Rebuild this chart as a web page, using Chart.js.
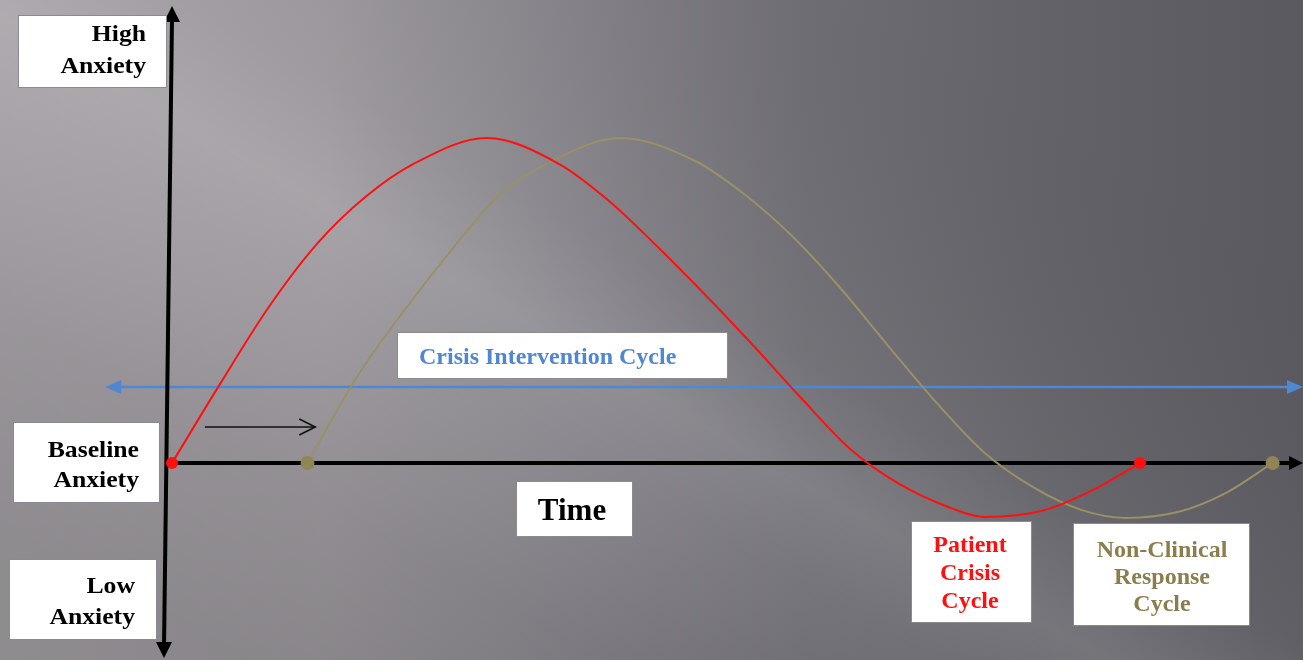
<!DOCTYPE html>
<html>
<head>
<meta charset="utf-8">
<title>Crisis Intervention Cycle</title>
<script src="https://cdn.jsdelivr.net/npm/chart.js@4/dist/chart.umd.min.js"></script>
<style>
  html, body { margin: 0; padding: 0; background: #77757a; }
  body { width: 1303px; height: 660px; overflow: hidden; }
  #wrap { position: absolute; left: 0; top: 0; width: 1303px; height: 660px; }
</style>
</head>
<body>
<div id="wrap"><canvas id="chart" width="1303" height="660"></canvas></div>
<script>
// Time runs in cycle units (one full patient cycle = 10); anxiety is relative to baseline (0).
const patientTime  = [0, 0.5, 1.0, 1.5, 2.0, 2.5, 3.25, 4.0, 4.5, 5.0, 5.5, 6.0, 6.5, 7.0, 7.5, 8.0, 8.4, 9.0, 9.5, 10.0];
const patientLevel = [0, 2.45, 4.8, 6.75, 8.19, 9.21, 10.0, 9.2, 8.1, 6.7, 5.2, 3.63, 2.0, 0.45, -0.62, -1.33, -1.66, -1.46, -0.85, 0];

const responseTime  = [1.4, 1.9, 2.4, 2.9, 3.4, 3.9, 4.63, 5.4, 5.9, 6.4, 6.9, 7.4, 7.9, 8.4, 8.9, 9.4, 9.85, 10.4, 10.9, 11.37];
const responseLevel = [0, 2.6, 4.7, 6.6, 8.3, 9.25, 10.0, 9.3, 8.3, 7.0, 5.4, 3.6, 1.85, 0.3, -0.75, -1.45, -1.69, -1.5, -0.9, 0];

// Reference levels on the anxiety scale
const interventionLevel = 2.34;   // crisis intervention band
const interventionFrom = -0.69;
const shiftArrowLevel = 1.11;     // delay arrow between the two cycle starts
const shiftArrowFrom = 0.34;
const shiftArrowTo = 1.48;

const xRange = [-1.777, 11.684];
const yRange = [-6.06, 14.246];

const RED = '#ff1010';
const OLIVE = '#9a9066';
const OLIVE_DOT = '#8f8656';
const OLIVE_TEXT = '#8a7e4e';
const BLUE = '#4f87d1';

function pts(ts, vs) { return ts.map((t, i) => ({ x: t, y: vs[i] })); }
function endDots(n, r) { return ctx => (ctx.dataIndex === 0 || ctx.dataIndex === n - 1) ? r : 0; }

const SERIF = '"Liberation Serif", "DejaVu Serif", serif';

function box(ctx, x0, y0, x1, y1) {
  ctx.save();
  ctx.fillStyle = '#ffffff';
  ctx.fillRect(x0, y0, x1 - x0, y1 - y0);
  ctx.strokeStyle = 'rgba(110,110,115,0.8)';
  ctx.lineWidth = 1;
  ctx.strokeRect(x0 + 0.5, y0 + 0.5, x1 - x0 - 1, y1 - y0 - 1);
  ctx.restore();
}
// Text lines drawn on their alphabetic baselines; sx widens the glyphs slightly.
function lines(ctx, texts, x, baselines, align, color, size, sx) {
  sx = sx || 1;
  ctx.save();
  ctx.fillStyle = color;
  ctx.font = 'bold ' + size + 'px ' + SERIF;
  ctx.textAlign = align;
  ctx.textBaseline = 'alphabetic';
  ctx.translate(x, 0);
  ctx.scale(sx, 1);
  texts.forEach((t, i) => ctx.fillText(t, 0, baselines[i]));
  ctx.restore();
}
function filledHead(ctx, tipX, tipY, dir, len, half, color) {
  ctx.save();
  ctx.fillStyle = color;
  ctx.beginPath();
  if (dir === 'up') { ctx.moveTo(tipX, tipY); ctx.lineTo(tipX - half, tipY + len); ctx.lineTo(tipX + half, tipY + len); }
  if (dir === 'down') { ctx.moveTo(tipX, tipY); ctx.lineTo(tipX - half, tipY - len); ctx.lineTo(tipX + half, tipY - len); }
  if (dir === 'right') { ctx.moveTo(tipX, tipY); ctx.lineTo(tipX - len, tipY - half); ctx.lineTo(tipX - len, tipY + half); }
  if (dir === 'left') { ctx.moveTo(tipX, tipY); ctx.lineTo(tipX + len, tipY - half); ctx.lineTo(tipX + len, tipY + half); }
  ctx.closePath();
  ctx.fill();
  ctx.restore();
}

// Slate backdrop: light on the left, darkening to the right, with a soft diagonal sheen.
const backdrop = {
  id: 'backdrop',
  beforeDraw(chart) {
    const ctx = chart.ctx, W = chart.width, H = chart.height;
    ctx.save();
    const base = ctx.createLinearGradient(0, 0, W, 0);
    base.addColorStop(0.00, '#a39fa4');
    base.addColorStop(0.25, '#9a969b');
    base.addColorStop(0.45, '#838187');
    base.addColorStop(0.62, '#6e6d73');
    base.addColorStop(0.80, '#636268');
    base.addColorStop(1.00, '#5a595f');
    ctx.fillStyle = base;
    ctx.fillRect(0, 0, W, H);

    const sheen = ctx.createLinearGradient(660, -150, 200, 640);
    sheen.addColorStop(0.00, 'rgba(0,0,0,0.00)');
    sheen.addColorStop(0.40, 'rgba(255,255,255,0.04)');
    sheen.addColorStop(0.52, 'rgba(255,255,255,0.13)');
    sheen.addColorStop(0.62, 'rgba(255,255,255,0.05)');
    sheen.addColorStop(0.80, 'rgba(0,0,0,0.06)');
    sheen.addColorStop(1.00, 'rgba(0,0,0,0.12)');
    ctx.fillStyle = sheen;
    ctx.fillRect(0, 0, W, H);
    ctx.restore();
  }
};

const diagramLayer = {
  id: 'diagramLayer',
  beforeDatasetsDraw(chart) {
    const ctx = chart.ctx;
    const xs = chart.scales.x, ys = chart.scales.y;
    const x0 = xs.getPixelForValue(0);
    const y0 = ys.getPixelForValue(0);
    const W = chart.width, H = chart.height;

    // Crisis intervention band (double-headed)
    const yb = ys.getPixelForValue(interventionLevel);
    const bl = xs.getPixelForValue(interventionFrom);
    ctx.save();
    ctx.strokeStyle = BLUE; ctx.lineWidth = 2.5;
    ctx.beginPath(); ctx.moveTo(bl + 10, yb); ctx.lineTo(W - 10, yb); ctx.stroke();
    ctx.restore();
    filledHead(ctx, bl, yb, 'left', 16, 7, BLUE);
    filledHead(ctx, W, yb, 'right', 16, 7, BLUE);

    // Anxiety axis (vertical, both directions)
    ctx.save();
    ctx.strokeStyle = '#000'; ctx.lineWidth = 4;
    ctx.beginPath(); ctx.moveTo(x0, 18); ctx.lineTo(x0 - 8, H - 14); ctx.stroke();
    ctx.restore();
    filledHead(ctx, x0, 6, 'up', 16, 8, '#000');
    filledHead(ctx, x0 - 8, H - 2, 'down', 16, 8, '#000');

    // Time axis
    ctx.save();
    ctx.strokeStyle = '#000'; ctx.lineWidth = 4;
    ctx.beginPath(); ctx.moveTo(x0, y0); ctx.lineTo(W - 10, y0); ctx.stroke();
    ctx.restore();
    filledHead(ctx, W, y0, 'right', 14, 7, '#000');

    // Delay arrow
    const ya = ys.getPixelForValue(shiftArrowLevel);
    const ax0 = xs.getPixelForValue(shiftArrowFrom), ax1 = xs.getPixelForValue(shiftArrowTo);
    ctx.save();
    ctx.strokeStyle = '#111'; ctx.lineWidth = 1.6;
    ctx.beginPath(); ctx.moveTo(ax0, ya); ctx.lineTo(ax1, ya); ctx.stroke();
    ctx.beginPath(); ctx.moveTo(ax1 - 16, ya - 8); ctx.lineTo(ax1, ya); ctx.lineTo(ax1 - 16, ya + 8); ctx.stroke();
    ctx.restore();
  },
  afterDatasetsDraw(chart) {
    const ctx = chart.ctx;
    box(ctx, 18, 15, 167, 88);
    lines(ctx, ['High', 'Anxiety'], 146, [41, 73], 'right', '#000', 24, 1.07);

    box(ctx, 13, 422, 160, 503);
    lines(ctx, ['Baseline', 'Anxiety'], 139, [457, 487], 'right', '#000', 24, 1.07);

    box(ctx, 9, 559, 157, 640);
    lines(ctx, ['Low', 'Anxiety'], 135, [593, 624], 'right', '#000', 24, 1.07);

    box(ctx, 516, 481, 633, 537);
    lines(ctx, ['Time'], 572, [520], 'center', '#000', 31);

    box(ctx, 397, 332, 728, 379);
    lines(ctx, ['Crisis Intervention Cycle'], 419, [364], 'left', BLUE, 24);

    box(ctx, 911, 521, 1032, 623);
    lines(ctx, ['Patient', 'Crisis', 'Cycle'], 970, [552, 580, 608], 'center', RED, 24);

    box(ctx, 1073, 523, 1250, 626);
    lines(ctx, ['Non-Clinical', 'Response', 'Cycle'], 1162, [557, 584, 611], 'center', OLIVE_TEXT, 24);
  }
};

new Chart(document.getElementById('chart'), {
  type: 'line',
  data: {
    datasets: [
      {
        label: 'Patient Crisis Cycle',
        data: pts(patientTime, patientLevel),
        borderColor: RED, backgroundColor: RED,
        borderWidth: 2,
        pointRadius: endDots(patientTime.length, 6),
        pointBorderWidth: 0,
        cubicInterpolationMode: 'monotone',
        fill: false
      },
      {
        label: 'Non-Clinical Response Cycle',
        data: pts(responseTime, responseLevel),
        borderColor: OLIVE, backgroundColor: OLIVE_DOT,
        borderWidth: 2,
        pointRadius: endDots(responseTime.length, 7),
        pointBorderWidth: 0,
        cubicInterpolationMode: 'monotone',
        fill: false
      }
    ]
  },
  options: {
    responsive: false,
    animation: false,
    devicePixelRatio: 1,
    layout: { padding: 0, autoPadding: false },
    clip: false,
    scales: {
      x: { type: 'linear', min: xRange[0], max: xRange[1], display: false },
      y: { type: 'linear', min: yRange[0], max: yRange[1], display: false }
    },
    plugins: { legend: { display: false }, tooltip: { enabled: false } }
  },
  plugins: [backdrop, diagramLayer]
});
</script>
</body>
</html>
